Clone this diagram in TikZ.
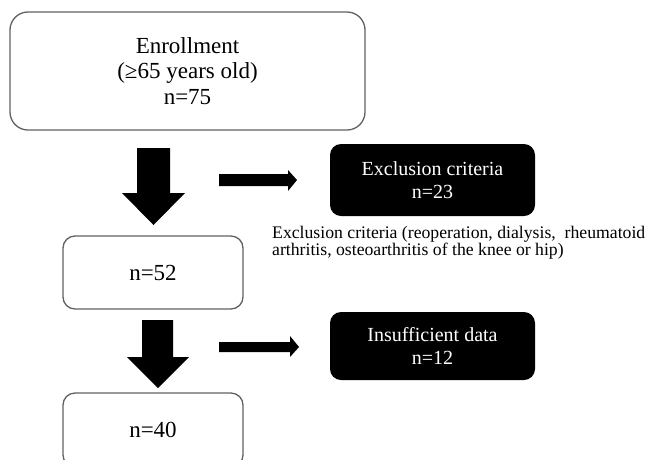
\documentclass[tikz,border=0pt]{standalone}
\usepackage{fontspec}
\setmainfont{Liberation Serif}
\begin{document}
\begin{tikzpicture}[x=1pt,y=-1pt,
  whitebox/.style={draw=black!62, line width=1.3pt, fill=white, rounded corners=#1, inner sep=0pt, align=center},
  blackbox/.style={fill=black, rounded corners=11pt, inner sep=0pt, align=center, text=white, font=\fontsize{20}{23}\selectfont},
  bigtxt/.style={font=\fontsize{23}{25.5}\selectfont},
  notetxt/.style={font=\fontsize{17.7}{17}\selectfont, inner sep=0pt, anchor=base west},
  blockarrow/.style={fill=black}
]
\useasboundingbox (0,0) rectangle (651,459);
\node[whitebox=18pt, bigtxt, minimum width=355pt, minimum height=118pt] (enroll) at (187.5,71)
  {Enrollment\\(≥65 years old)\\n=75};
\node[whitebox=12pt, bigtxt, minimum width=180pt, minimum height=73pt] (n52) at (153,272.5) {n=52};
\node[whitebox=12pt, bigtxt, minimum width=180pt, minimum height=74pt] (n40) at (153,430) {n=40};
\node[blackbox, minimum width=205pt, minimum height=72pt] (ex1) at (432.5,180) {Exclusion criteria\\n=23};
\node[blackbox, minimum width=205pt, minimum height=68pt] (ex2) at (432.5,346) {Insufficient data\\n=12};
\node[notetxt] (note1) at (272,238) {Exclusion criteria (reoperation, dialysis,\ \ rheumatoid};
\node[notetxt] (note2) at (272,255) {arthritis, osteoarthritis of the knee or hip)};
% block arrows
\fill[blockarrow] (137,148) -- (170,148) -- (170,193) -- (185,193) -- (153.5,225) -- (122,193) -- (137,193) -- cycle;
\fill[blockarrow] (219,174) -- (288,174) -- (288,170) -- (297,180) -- (288,191) -- (288,186) -- (219,186) -- cycle;
\fill[blockarrow] (142,320) -- (173,320) -- (173,357) -- (189,357) -- (158,388) -- (127,357) -- (142,357) -- cycle;
\fill[blockarrow] (219,342) -- (290,342) -- (290,336) -- (299,347) -- (290,357) -- (290,352) -- (219,352) -- cycle;
\end{tikzpicture}
\end{document}
